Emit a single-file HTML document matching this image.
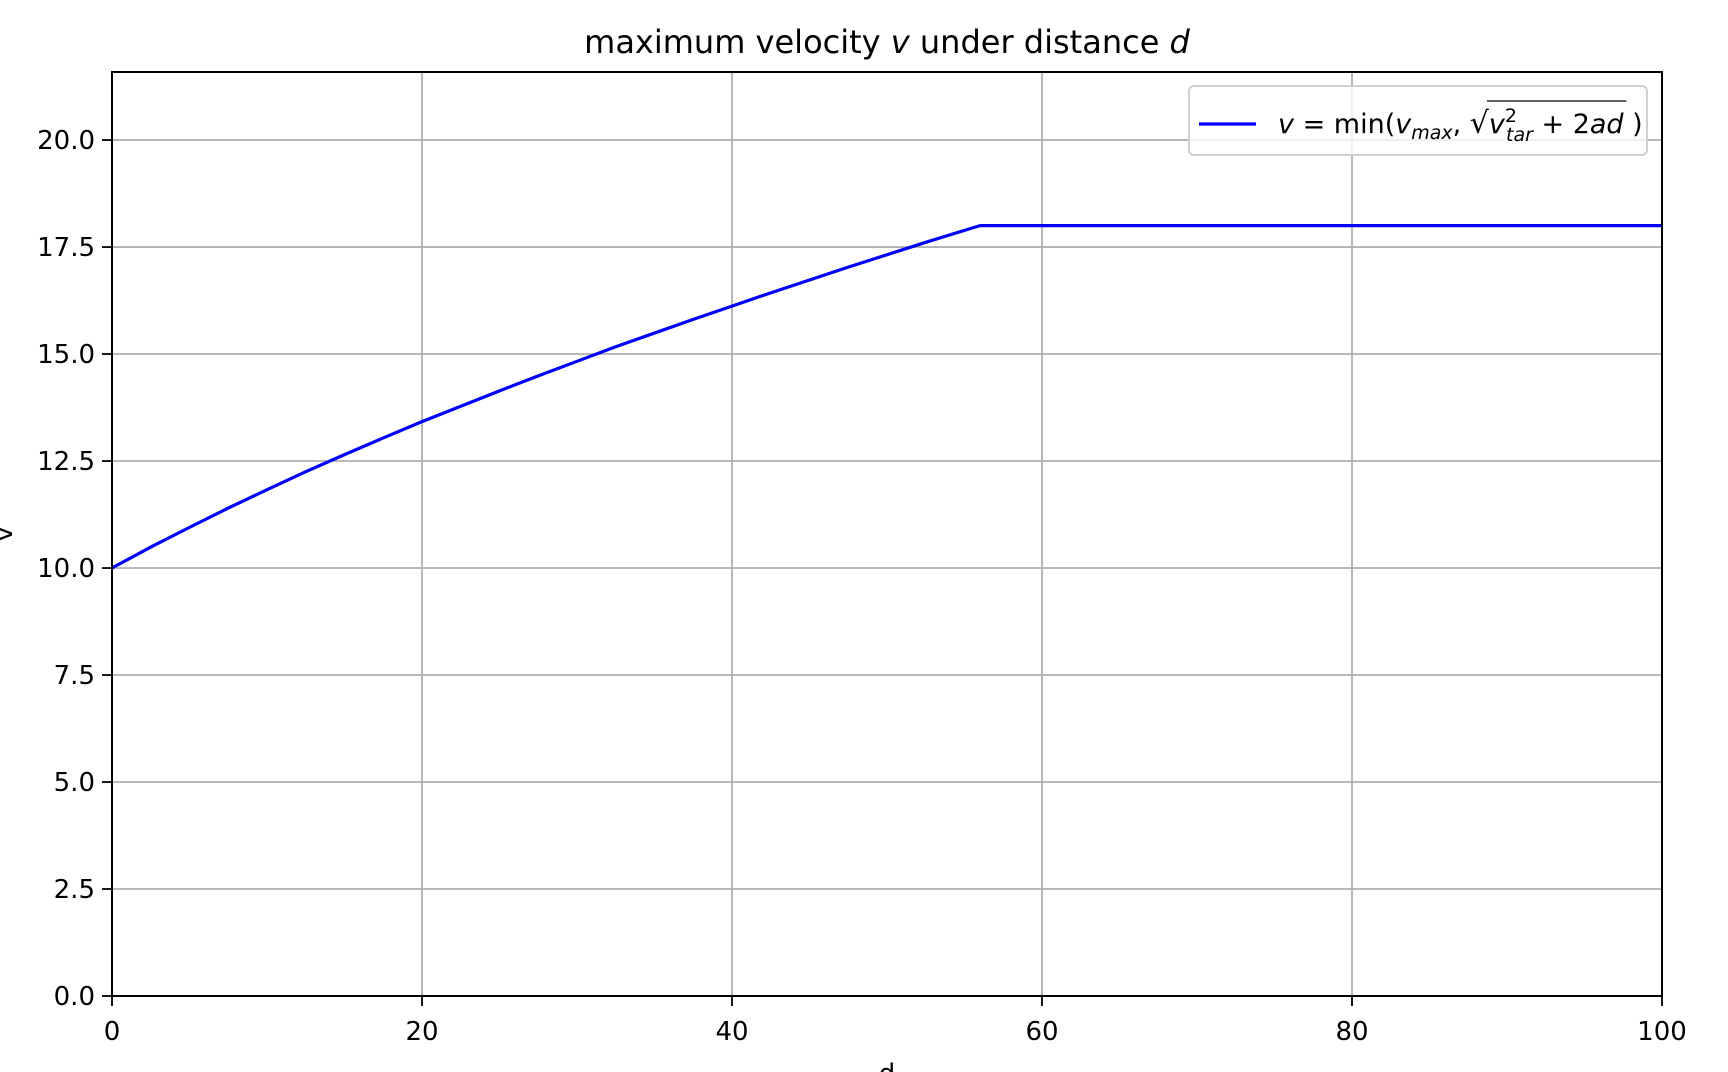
<!DOCTYPE html>
<html><head><meta charset="utf-8"><style>
html,body{margin:0;padding:0;background:#fff;}
svg{display:block;font-family:"DejaVu Sans","Liberation Sans",sans-serif;}
</style></head><body>
<svg id="chart" width="1728" height="1072" viewBox="0 0 1728 1072" xmlns="http://www.w3.org/2000/svg">
<rect width="1728" height="1072" fill="#fff"/>
<g id="grid"></g>
<g id="ticks"></g>
<polyline id="series" fill="none" stroke="#0000ff" stroke-width="3.2" stroke-linejoin="round"/>
<rect x="112" y="72" width="1550" height="924" fill="none" stroke="#000" stroke-width="2"/>
<text x="887" y="53" font-size="32" text-anchor="middle">maximum velocity <tspan font-style="italic">v</tspan> under distance <tspan font-style="italic">d</tspan></text>
<text x="887" y="1082" font-size="26" text-anchor="middle">d</text>
<text x="12" y="534" font-size="26" text-anchor="middle" transform="rotate(-90 12 534)">v</text>
<g>
<rect x="1189" y="86" width="458" height="69" rx="5" fill="#fff" fill-opacity="0.8" stroke="#d0d0d0" stroke-width="2"/>
<line x1="1199" y1="124" x2="1256" y2="124" stroke="#0000ff" stroke-width="3.2"/>
<text id="legtext" x="1278" y="133" font-size="27"><tspan font-style="italic">v</tspan> = min(<tspan font-style="italic">v</tspan><tspan font-style="italic" font-size="19" dy="6">max</tspan><tspan dy="-6">, </tspan><tspan font-size="30">√</tspan><tspan id="radStart" font-style="italic">v</tspan><tspan font-size="19" dy="-11">2</tspan><tspan font-style="italic" font-size="19" dx="-11" dy="19">tar</tspan><tspan dy="-8"> + 2</tspan><tspan id="radEnd" font-style="italic">ad</tspan> )</text>
<line id="overline" x1="1373" y1="101" x2="1583" y2="101" stroke="#000" stroke-width="1.3"/>
</g>
</svg>
<script>
const xTicks = [0, 20, 40, 60, 80, 100];
const yTicks = [0, 2.5, 5, 7.5, 10, 12.5, 15, 17.5, 20];
const yTickLabels = ["0.0","2.5","5.0","7.5","10.0","12.5","15.0","17.5","20.0"];
const dValues = [0, 2.5, 5, 7.5, 10, 12.5, 15, 17.5, 20, 22.5, 25, 27.5, 30, 32.5, 35, 37.5, 40, 42.5, 45, 47.5, 50, 52.5, 55, 56, 100];
const vValues = [10, 10.49, 10.95, 11.40, 11.83, 12.25, 12.65, 13.04, 13.42, 13.78, 14.14, 14.49, 14.83, 15.17, 15.49, 15.81, 16.12, 16.43, 16.73, 17.03, 17.32, 17.61, 17.89, 18, 18];

const L=112,R=1662,T=72,B=996;
const xMin=0,xMax=100,yMin=0,yMax=21.59;
const sx=v=>L+(v-xMin)/(xMax-xMin)*(R-L);
const sy=v=>B-(v-yMin)/(yMax-yMin)*(B-T);
const NS="http://www.w3.org/2000/svg";
const grid=document.getElementById('grid'), ticks=document.getElementById('ticks');
function mk(tag,attrs,parent){const e=document.createElementNS(NS,tag);for(const k in attrs)e.setAttribute(k,attrs[k]);parent.appendChild(e);return e;}
xTicks.forEach(t=>{
  const x=sx(t);
  const g=mk('line',{x1:x,y1:T,x2:x,y2:B,stroke:'#b0b0b0','stroke-width':1.8},grid);
  
  
  const tk=mk('line',{x1:x,y1:B,x2:x,y2:B+10,stroke:'#000','stroke-width':1.8},ticks);
  
  
  const lb=mk('text',{x:x,y:B+44,'font-size':26,'text-anchor':'middle'},ticks);
  
  
  lb.textContent=String(t);
});
yTicks.forEach((t,i)=>{
  const y=sy(t);
  const g=mk('line',{x1:L,y1:y,x2:R,y2:y,stroke:'#b0b0b0','stroke-width':1.8},grid);
  
  
  const tk=mk('line',{x1:L-10,y1:y,x2:L,y2:y,stroke:'#000','stroke-width':1.8},ticks);
  
  
  const lb=mk('text',{x:L-17,y:y+9,'font-size':26,'text-anchor':'end'},ticks);
  
  
  lb.textContent=yTickLabels[i];
});
document.getElementById('series').setAttribute('points',dValues.map((d,i)=>sx(d)+','+sy(vValues[i])).join(' '));
try{
  const a=document.getElementById('radStart').getBBox(), b=document.getElementById('radEnd').getBBox();
  const ol=document.getElementById('overline');
  ol.setAttribute('x1',a.x-2); ol.setAttribute('x2',b.x+b.width+2);
}catch(e){}
</script>
</body></html>
